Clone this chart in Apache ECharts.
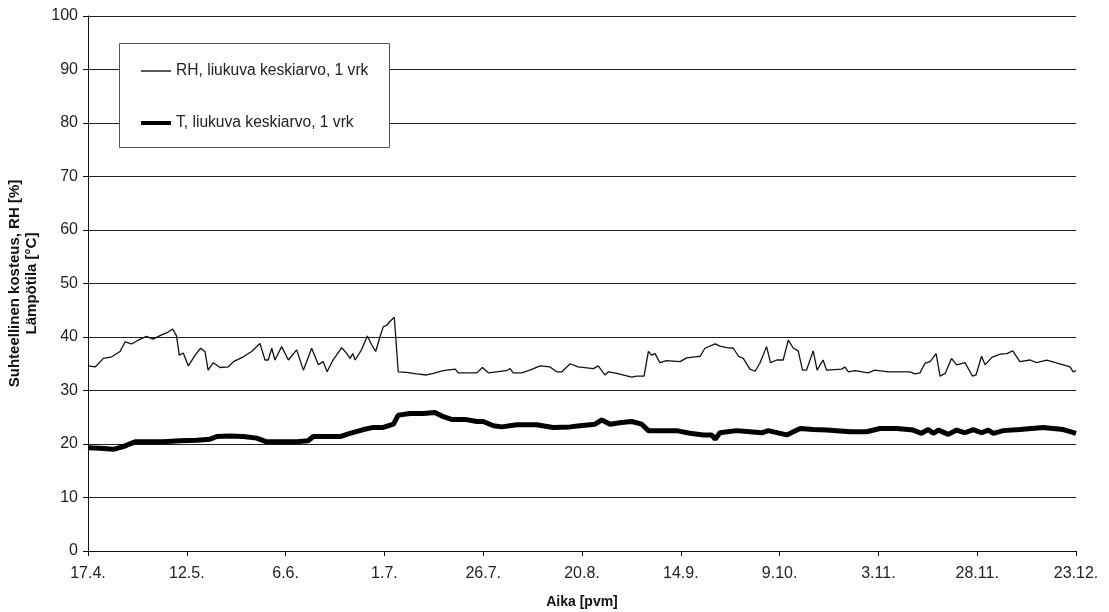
<!DOCTYPE html>
<html>
<head>
<meta charset="utf-8">
<script src="https://cdn.jsdelivr.net/npm/echarts@6/dist/echarts.min.js"></script>
<style>
  html, body { margin: 0; padding: 0; background: #fff; }
  #chart { width: 1109px; height: 612px; }
</style>
</head>
<body>
<div id="chart"></div>
<script>
// x axis: days from 17.4., a tick every 25 days
const tickLabels = ['17.4.', '12.5.', '6.6.', '1.7.', '26.7.', '20.8.', '14.9.', '9.10.', '3.11.', '28.11.', '23.12.']

// RH, moving average 1 day
const rhDays = [0, 1.8, 3.9, 6, 8.1, 9.4, 11, 12.7, 14.8, 16.5, 18.6, 20, 21.4, 22.4, 23.1, 24.1, 25.4, 27.1, 28.5, 29.6,
  30.4, 31.7, 33.4, 35.5, 36.8, 39.3, 41.4, 43.5, 44.8, 45.6, 46.5, 47.3, 49, 50.7, 52.8, 54.5, 56.6, 58.3, 59.5, 60.5,
  62, 64.2, 65.5, 66.3, 67, 67.6, 69.2, 70.7, 71.8, 72.8, 73.9, 74.7, 75.6, 76.4, 77.5, 78.5, 80.6, 83.2, 85.7, 87.4,
  89.9, 92.9, 93.7, 98.4, 99.8, 101.3, 105.9, 106.8, 107.6, 109.7, 111.8, 114.4, 116.9, 118.6, 119.9, 122, 124, 127.9, 129.1, 130.8,
  131.7, 133.8, 137.6, 138.8, 140.7, 141.8, 142.6, 143.5, 144.7, 146.4, 149.8, 151.5, 153.6, 154.9, 156.1, 158.7, 159.9, 161.6, 163.3, 164.6,
  165.8, 167.5, 168.8, 170, 171.7, 172.7, 174.3, 175.9, 177.2, 178.5, 179.7, 180.8, 181.8, 183.5, 184.5, 186, 186.9, 190.7, 191.5, 192.4,
  194.1, 197.4, 199.1, 202.5, 208, 209.3, 210.5, 211.8, 213.1, 214.6, 215.6, 216.9, 218.5, 219.8, 221.9, 223.8, 224.7, 226.1, 227, 228.7,
  230.8, 232.5, 234, 235.8, 238.4, 240, 242.6, 246.8, 248.5, 249.3, 250]
const rhValues = [34.6, 34.4, 36.0, 36.3, 37.3, 39.1, 38.7, 39.4, 40.1, 39.6, 40.4, 40.8, 41.5, 40.2, 36.6, 37.0, 34.6, 36.6, 37.9, 37.3,
  33.8, 35.2, 34.3, 34.4, 35.4, 36.3, 37.3, 38.8, 35.7, 35.7, 37.9, 35.7, 38.2, 35.7, 37.6, 33.8, 37.9, 34.8, 35.4, 33.5,
  35.7, 38.0, 36.9, 36.0, 36.9, 35.7, 37.6, 40.2, 38.5, 37.3, 40.1, 41.9, 42.2, 42.9, 43.7, 33.5, 33.4, 33.1, 32.9, 33.2,
  33.7, 34.0, 33.3, 33.3, 34.3, 33.3, 33.7, 34.1, 33.3, 33.3, 33.8, 34.6, 34.4, 33.5, 33.5, 35.0, 34.4, 34.1, 34.6, 32.9,
  33.5, 33.2, 32.5, 32.7, 32.7, 37.3, 36.6, 36.9, 35.2, 35.6, 35.4, 36.1, 36.3, 36.4, 37.9, 38.7, 38.3, 38.0, 37.9, 36.4,
  36.0, 34.0, 33.6, 35.1, 38.2, 35.2, 35.7, 35.7, 39.4, 37.9, 37.4, 33.8, 33.8, 37.4, 33.8, 35.7, 33.8, 34.0, 34.4, 33.5,
  33.7, 33.3, 33.8, 33.5, 33.5, 33.1, 33.3, 35.1, 35.4, 36.9, 32.7, 33.2, 36.0, 34.8, 35.2, 32.7, 32.9, 36.4, 34.8, 36.2,
  36.8, 36.9, 37.4, 35.4, 35.7, 35.2, 35.7, 34.8, 34.4, 33.5, 33.7]

// T, moving average 1 day
const tDays = [0, 3, 6.4, 8.9, 11.9, 14.8, 19, 23.3, 27.5, 30.9, 32.6, 35.9, 39.3, 42.7, 45.2, 48.6, 52.8, 55.7, 57, 60.4,
  63.8, 66.3, 69.7, 72.2, 74.7, 77.3, 78.5, 81.5, 84.8, 87.8, 89.9, 92, 95.4, 98.4, 100, 102.6, 104.7, 108.5, 113.5, 117.7,
  122, 124.5, 128.3, 130, 132.1, 135, 137.6, 140.1, 141.8, 144.7, 148.9, 152.3, 155.7, 157.8, 158.7, 159.9, 164.1, 167.5, 170.5, 172.1,
  176.8, 180.2, 183.5, 186.9, 192.9, 197, 200.4, 204.6, 208.8, 210.9, 212.6, 213.9, 215.2, 217.7, 219.8, 221.9, 224, 226.1, 227.8, 229.1,
  231.6, 235.8, 241.7, 246.8, 250]
const tValues = [19.3, 19.2, 19.0, 19.5, 20.4, 20.4, 20.4, 20.6, 20.7, 20.9, 21.4, 21.5, 21.4, 21.1, 20.4, 20.4, 20.4, 20.6, 21.4, 21.4,
  21.4, 22.0, 22.7, 23.1, 23.1, 23.7, 25.4, 25.7, 25.7, 25.9, 25.1, 24.6, 24.6, 24.2, 24.2, 23.4, 23.2, 23.6, 23.6, 23.1,
  23.2, 23.4, 23.7, 24.5, 23.7, 24.0, 24.2, 23.7, 22.5, 22.5, 22.5, 22.0, 21.7, 21.7, 20.9, 22.1, 22.5, 22.3, 22.1, 22.5,
  21.7, 22.9, 22.7, 22.6, 22.3, 22.3, 22.9, 22.9, 22.6, 22.0, 22.7, 22.0, 22.6, 21.8, 22.6, 22.1, 22.7, 22.1, 22.6, 22.0,
  22.5, 22.7, 23.1, 22.7, 22.0]

const rhName = 'RH, liukuva keskiarvo, 1 vrk'
const tName = 'T, liukuva keskiarvo, 1 vrk'

const pairs = (xs, ys) => xs.map((x, i) => [x, ys[i]])

const chart = echarts.init(document.getElementById('chart'))
const font = 'Liberation Sans, Arial, sans-serif'

// one legend per series so each sample line gets its own thickness
const legendItem = (name, top, thickness) => ({
  data: [name],
  left: 141,
  top: top,
  padding: 0,
  icon: 'rect',
  itemWidth: 30,
  itemHeight: thickness,
  itemStyle: { color: '#000' },
  textStyle: { fontSize: 15.6, color: '#222', fontFamily: font },
  z: 5
})

chart.setOption({
  animation: false,
  backgroundColor: '#fff',
  textStyle: { fontFamily: font },
  grid: { left: 88, right: 33, top: 16, bottom: 61, outerBoundsMode: 'none' },
  graphic: [{
    type: 'rect',
    z: 3,
    shape: { x: 119.5, y: 43.5, width: 270, height: 104 },
    style: { fill: '#fff', stroke: '#555', lineWidth: 1 }
  }],
  legend: [
    legendItem(rhName, 63, 1.3),
    legendItem(tName, 115, 4)
  ],
  xAxis: {
    type: 'value',
    min: 0,
    max: 250,
    interval: 25,
    name: 'Aika [pvm]',
    nameLocation: 'middle',
    nameGap: 44,
    nameTextStyle: { fontSize: 14, fontWeight: 'bold', color: '#111' },
    axisLine: { lineStyle: { color: '#111', width: 1 } },
    axisTick: { show: true, length: 5, lineStyle: { color: '#111' } },
    axisLabel: {
      fontSize: 16,
      color: '#222',
      margin: 15,
      formatter: v => tickLabels[Math.round(v / 25)]
    },
    splitLine: { show: false }
  },
  yAxis: {
    type: 'value',
    min: 0,
    max: 100,
    interval: 10,
    name: 'Suhteellinen kosteus, RH [%]\nLämpötila [°C]',
    nameLocation: 'middle',
    nameGap: 38,
    nameTextStyle: { fontSize: 15, fontWeight: 'bold', color: '#111', lineHeight: 17, align: 'center' },
    axisLine: { show: true, lineStyle: { color: '#111', width: 1 } },
    axisTick: { show: true, length: 5, lineStyle: { color: '#111' } },
    axisLabel: { fontSize: 16, color: '#222', margin: 10 },
    splitLine: { lineStyle: { color: '#222', width: 1 } }
  },
  series: [
    {
      name: rhName,
      type: 'line',
      symbol: 'none',
      data: pairs(rhDays, rhValues),
      lineStyle: { color: '#111', width: 1.3 },
      itemStyle: { color: '#111' }
    },
    {
      name: tName,
      type: 'line',
      symbol: 'none',
      data: pairs(tDays, tValues),
      lineStyle: { color: '#000', width: 5 },
      itemStyle: { color: '#000' }
    }
  ]
})
</script>
</body>
</html>
